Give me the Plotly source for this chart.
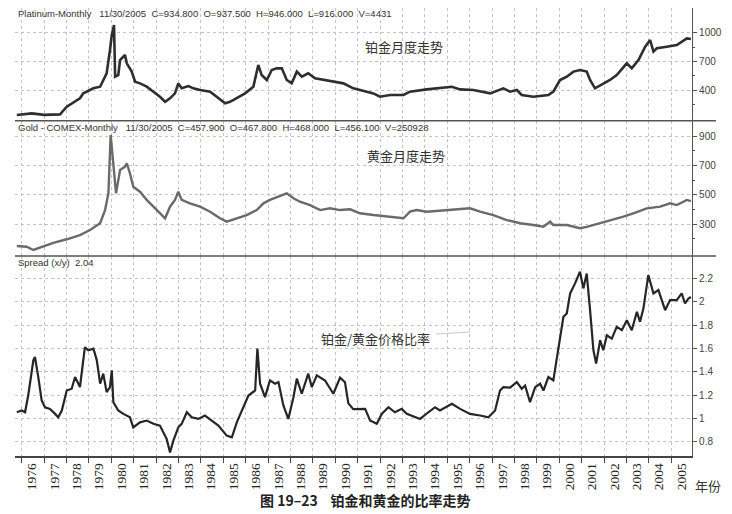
import plotly.graph_objects as go
from plotly.subplots import make_subplots

# ---------------- data ----------------
plat_t = [1975.78, 1976.45, 1977.00, 1977.71, 1978.01, 1978.60, 1978.75, 1979.20, 1979.50, 1979.64,
          1979.79, 1979.94, 1980.02, 1980.12, 1980.17, 1980.31, 1980.39, 1980.61, 1980.69, 1980.91,
          1981.06, 1981.28, 1981.58, 1981.88, 1982.17, 1982.40, 1982.62, 1982.84, 1982.99, 1983.14,
          1983.44, 1983.66, 1983.96, 1984.41, 1984.71, 1985.08, 1985.30, 1985.60, 1985.97, 1986.34,
          1986.56, 1986.71, 1986.94, 1987.16, 1987.38, 1987.61, 1987.83, 1988.05, 1988.28, 1988.50,
          1988.79, 1989.09, 1989.46, 1989.91, 1990.36, 1990.80, 1991.10, 1991.70, 1991.99, 1992.44,
          1993.04, 1993.33, 1994.08, 1994.67, 1995.20, 1995.57, 1996.16, 1996.91, 1997.50, 1997.80,
          1998.10, 1998.32, 1998.84, 1999.51, 1999.73, 2000.03, 2000.33, 2000.63, 2000.92, 2001.22,
          2001.37, 2001.59, 2001.96, 2002.26, 2002.56, 2003.01, 2003.23, 2003.53, 2003.83, 2004.05,
          2004.20, 2004.35, 2004.79, 2005.24, 2005.69, 2005.87]
plat_v = [138, 156, 140, 145, 225, 313, 365, 418, 435, 505,
          575, 819, 976, 1080, 540, 557, 714, 767, 680, 593,
          487, 470, 435, 383, 330, 277, 313, 365, 470, 418,
          442, 418, 400, 383, 330, 261, 277, 313, 365, 435,
          662, 557, 505, 610, 627, 627, 505, 470, 593, 540,
          575, 522, 505, 487, 470, 418, 400, 365, 330, 348,
          348, 383, 407, 418, 435, 407, 400, 365, 418, 383,
          400, 348, 330, 348, 383, 505, 540, 593, 610, 593,
          505, 418, 470, 505, 557, 680, 627, 714, 854, 924,
          802, 837, 854, 871, 941, 935]

gold_t = [1975.78, 1976.22, 1976.52, 1976.96, 1977.41, 1978.01, 1978.60, 1979.05, 1979.50, 1979.72,
          1979.87, 1979.97, 1980.09, 1980.21, 1980.39, 1980.61, 1980.69, 1980.83, 1980.98, 1981.28,
          1981.58, 1981.88, 1982.17, 1982.40, 1982.62, 1982.84, 1982.99, 1983.14, 1983.51, 1983.96,
          1984.41, 1984.85, 1985.15, 1985.60, 1986.04, 1986.49, 1986.79, 1987.08, 1987.46, 1987.83,
          1988.13, 1988.42, 1988.87, 1989.32, 1989.76, 1990.21, 1990.66, 1991.10, 1991.70, 1992.44,
          1993.04, 1993.33, 1993.63, 1994.08, 1994.67, 1995.27, 1996.01, 1996.46, 1997.05, 1997.65,
          1998.25, 1998.84, 1999.29, 1999.59, 1999.73, 2000.33, 2000.92, 2001.22, 2001.82, 2002.41,
          2002.86, 2003.30, 2003.90, 2004.50, 2004.94, 2005.24, 2005.69, 2005.87]
gold_v = [152, 147, 125, 147, 174, 198, 227, 261, 307, 397,
          511, 909, 693, 511, 670, 693, 716, 648, 556, 522,
          466, 420, 375, 341, 420, 466, 522, 466, 443, 420,
          386, 341, 318, 341, 363, 397, 443, 466, 488, 511,
          477, 454, 431, 397, 409, 397, 402, 375, 363, 352,
          341, 386, 397, 386, 393, 397, 409, 386, 363, 329,
          307, 295, 283, 318, 295, 295, 273, 283, 307, 329,
          352, 375, 409, 420, 443, 431, 466, 458]

ratio_t = [1975.78, 1976.00, 1976.15, 1976.30, 1976.52, 1976.59, 1976.74, 1976.89, 1977.04, 1977.26,
           1977.49, 1977.63, 1977.79, 1978.01, 1978.23, 1978.38, 1978.60, 1978.82, 1978.97, 1979.20,
           1979.35, 1979.50, 1979.64, 1979.79, 1979.94, 1980.02, 1980.09, 1980.31, 1980.54, 1980.83,
           1980.98, 1981.28, 1981.58, 1981.88, 1982.17, 1982.47, 1982.62, 1982.77, 1982.99, 1983.14,
           1983.37, 1983.59, 1983.88, 1984.18, 1984.48, 1984.78, 1985.15, 1985.38, 1985.60, 1985.82,
           1986.12, 1986.42, 1986.52, 1986.64, 1986.86, 1987.08, 1987.31, 1987.46, 1987.68, 1987.90,
           1988.13, 1988.28, 1988.50, 1988.79, 1988.95, 1989.17, 1989.54, 1989.91, 1990.21, 1990.43,
           1990.58, 1990.80, 1991.10, 1991.33, 1991.55, 1991.85, 1992.07, 1992.37, 1992.66, 1992.96,
           1993.19, 1993.78, 1994.15, 1994.45, 1994.67, 1995.20, 1995.57, 1996.01, 1996.46, 1996.83,
           1997.13, 1997.35, 1997.50, 1997.80, 1998.10, 1998.32, 1998.47, 1998.69, 1998.92, 1999.14,
           1999.29, 1999.51, 1999.73, 1999.96, 2000.18, 2000.33, 2000.48, 2000.70, 2000.92, 2001.07,
           2001.22, 2001.37, 2001.52, 2001.64, 2001.82, 2001.96, 2002.12, 2002.34, 2002.56, 2002.79,
           2003.01, 2003.23, 2003.46, 2003.60, 2003.75, 2003.97, 2004.20, 2004.42, 2004.72, 2004.94,
           2005.24, 2005.46, 2005.61, 2005.76, 2005.87]
ratio_v = [1.054, 1.069, 1.054, 1.21, 1.50, 1.526, 1.355, 1.155, 1.097, 1.083,
           1.04, 1.011, 1.069, 1.24, 1.255, 1.355, 1.27, 1.61, 1.584, 1.598,
           1.50, 1.298, 1.384, 1.226, 1.269, 1.412, 1.14, 1.069, 1.04, 1.011,
           0.925, 0.968, 0.983, 0.955, 0.94, 0.826, 0.711, 0.811, 0.925, 0.955,
           1.054, 1.011, 0.997, 1.026, 0.983, 0.94, 0.854, 0.84, 0.968, 1.069,
           1.197, 1.24, 1.598, 1.298, 1.183, 1.326, 1.298, 1.312, 1.112, 0.997,
           1.183, 1.341, 1.212, 1.384, 1.269, 1.369, 1.326, 1.212, 1.35, 1.31,
           1.13, 1.08, 1.08, 1.083, 0.983, 0.955, 1.04, 1.097, 1.054, 1.083,
           1.04, 0.997, 1.054, 1.097, 1.069, 1.126, 1.083, 1.04, 1.026, 1.011,
           1.069, 1.24, 1.269, 1.264, 1.312, 1.255, 1.283, 1.14, 1.269, 1.298,
           1.24, 1.355, 1.326, 1.612, 1.87, 1.899, 2.07, 2.156, 2.256, 2.113,
           2.24, 1.927, 1.584, 1.47, 1.67, 1.584, 1.712, 1.684, 1.784, 1.755,
           1.84, 1.755, 1.912, 1.827, 1.94, 2.227, 2.07, 2.099, 1.927, 2.013,
           2.013, 2.07, 1.984, 2.027, 2.04]

years = list(range(1976, 2006))
year_labels = [str(y) for y in years]
plat_ticks = [400, 700, 1000]
gold_ticks = [300, 500, 700, 900]
ratio_ticks = [0.8, 1.0, 1.2, 1.4, 1.6, 1.8, 2.0, 2.2]

plat_header = "Platinum-Monthly   11/30/2005  C=934.800  O=937.500  H=946.000  L=916.000  V=4431"
gold_header = "Gold - COMEX-Monthly   11/30/2005  C=457.900  O=467.800  H=468.000  L=456.100  V=250928"
ratio_header = "Spread (x/y)  2.04"

# ---------------- figure ----------------
fig = make_subplots(rows=3, cols=1, shared_xaxes=True, vertical_spacing=0,
                    row_heights=[112.7 / 448, 135.3 / 448, 200 / 448])

fig.add_trace(go.Scatter(x=plat_t, y=plat_v, mode="lines",
                         line=dict(color="#2e2e2e", width=2.6)), row=1, col=1)
fig.add_trace(go.Scatter(x=gold_t, y=gold_v, mode="lines",
                         line=dict(color="#6a6a6a", width=2.4)), row=2, col=1)
fig.add_trace(go.Scatter(x=ratio_t, y=ratio_v, mode="lines",
                         line=dict(color="#262626", width=2.2)), row=3, col=1)

grid = dict(showgrid=True, gridcolor="#c4c4c4", griddash="dot", gridwidth=1)
tickfont_r = dict(family="Liberation Sans, Arial", size=10, color="#444")

# year labels sit in the middle of each year; ticks and grid at year starts
label_pos = [y + 0.45 for y in years]
for r in (1, 2, 3):
    fig.update_xaxes(row=r, col=1, range=[1975.70, 2005.92], tickvals=label_pos,
                     ticktext=year_labels, zeroline=False, showgrid=False, ticks="",
                     minor=dict(tickvals=years, showgrid=True, gridcolor="#c4c4c4",
                                griddash="dot", gridwidth=1, ticks=""))
fig.update_xaxes(row=3, col=1, showline=True, linecolor="#444", linewidth=1.5,
                 tickangle=-90, ticklen=0,
                 minor=dict(tickvals=years, showgrid=True, gridcolor="#c4c4c4",
                            griddash="dot", gridwidth=1, ticks="outside", ticklen=5,
                            tickcolor="#444"),
                 tickfont=dict(family="Liberation Serif, Times New Roman", size=13.5, color="#222"))

yax_common = dict(side="right", showline=True, linecolor="#555", linewidth=1.2,
                  ticks="outside", ticklen=4, tickcolor="#555", tickfont=tickfont_r,
                  zeroline=False, **grid)
fig.update_yaxes(row=1, col=1, range=[79, 1259], tickvals=plat_ticks,
                 minor=dict(tickvals=[250, 550, 850], ticks="outside", ticklen=2,
                            tickcolor="#555", showgrid=False), **yax_common)
fig.update_yaxes(row=2, col=1, range=[84, 1006], tickvals=gold_ticks,
                 minor=dict(tickvals=[200, 400, 600, 800], ticks="outside", ticklen=2,
                            tickcolor="#555", showgrid=False), **yax_common)
fig.update_yaxes(row=3, col=1, range=[0.68, 2.39], tickvals=ratio_ticks, **yax_common)

# the page puts the figure 8px in from the top-left, so the figure is 8px smaller
OFF = 8
W, H = 732 - OFF, 514 - OFF
PL, PR, PT, PB = 15, 692, 8, 456          # plot box in page pixels
L, R, T, B = PL - OFF, W - (PR - OFF), PT - OFF, H - (PB - OFF)
pw, ph = PR - PL, PB - PT


def px(xp):
    return (xp - PL) / pw


def py(yp):
    return (PB - yp) / ph


shapes = []
for yy in (120.7, 256):
    shapes.append(dict(type="line", xref="paper", yref="paper", x0=0, x1=px(716),
                       y0=py(yy), y1=py(yy), line=dict(color="#555", width=1.6)))
shapes.append(dict(type="line", xref="paper", yref="paper", x0=px(436), x1=px(470),
                   y0=py(334), y1=py(332), line=dict(color="#c8c8c8", width=1)))

hdr_font = dict(family="Liberation Sans, Arial", size=9.5, color="#333")
cjk = "Noto Sans CJK SC"
ann = [
    dict(text=plat_header, x=px(16), y=py(13), xanchor="left", yanchor="middle", font=hdr_font),
    dict(text=gold_header, x=px(16), y=py(127), xanchor="left", yanchor="middle", font=hdr_font),
    dict(text=ratio_header, x=px(16), y=py(262), xanchor="left", yanchor="middle", font=hdr_font),
    dict(text="铂金月度走势", x=px(404), y=py(47), xanchor="center", yanchor="middle",
         font=dict(family=cjk, size=13, color="#333")),
    dict(text="黄金月度走势", x=px(406), y=py(155), xanchor="center", yanchor="middle",
         font=dict(family=cjk, size=13, color="#333")),
    dict(text="铂金/黄金价格比率", x=px(375), y=py(338), xanchor="center", yanchor="middle",
         font=dict(family=cjk, size=13, color="#333")),
    dict(text="年份", x=px(723), y=py(485), xanchor="right", yanchor="middle",
         font=dict(family=cjk, size=13, color="#333")),
    dict(text="<b>图 19–23    铂金和黄金的比率走势</b>", x=px(365), y=py(500),
         xanchor="center", yanchor="middle", font=dict(family=cjk, size=14, color="#222")),
]
for a in ann:
    a.update(xref="paper", yref="paper", showarrow=False)

fig.update_layout(width=W, height=H, margin=dict(l=L, r=R, t=T, b=B),
                  paper_bgcolor="white", plot_bgcolor="white", showlegend=False,
                  shapes=shapes, annotations=ann)

fig.write_html("out.html")
